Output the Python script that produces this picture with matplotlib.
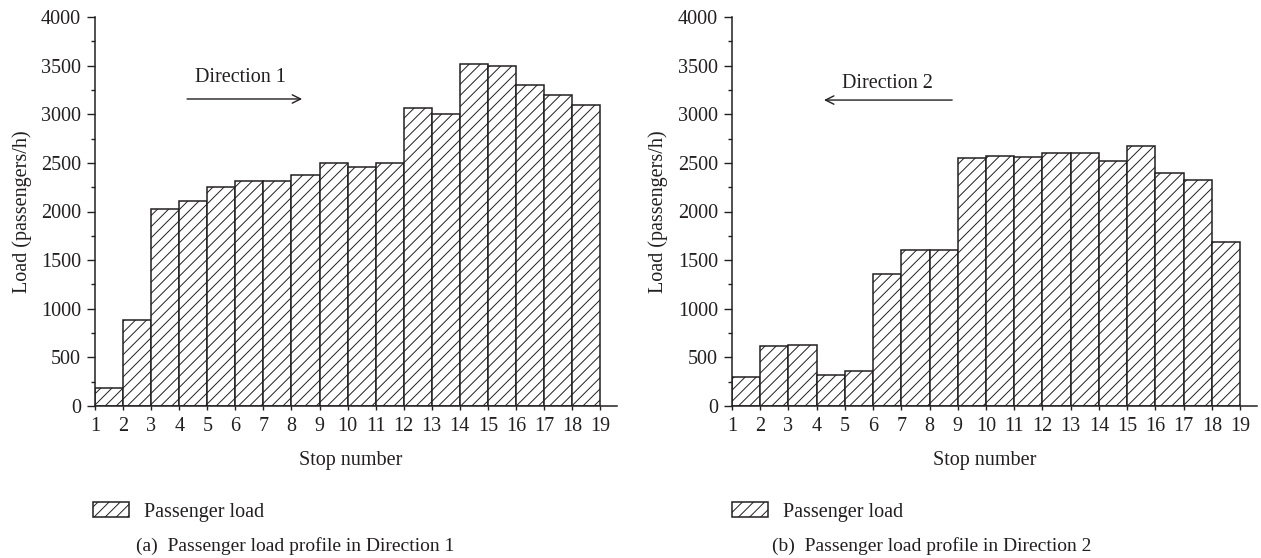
import matplotlib
matplotlib.use("Agg")
import matplotlib.pyplot as plt
from matplotlib.ticker import MultipleLocator

plt.rcParams['font.family'] = ['Liberation Serif', 'DejaVu Serif']
plt.rcParams['hatch.linewidth'] = 0.7

stops = list(range(1, 20))
segments = list(range(1, 19))
load_dir1 = [180, 880, 2030, 2110, 2250, 2310, 2310, 2380, 2500, 2460, 2500,
             3060, 3000, 3520, 3500, 3300, 3200, 3100]
load_dir2 = [300, 615, 630, 320, 360, 1360, 1600, 1605, 2550, 2570, 2565,
             2600, 2600, 2515, 2670, 2395, 2320, 1690]
yticks = list(range(0, 4001, 500))

INK = '#231f20'
FS = 14.5

W, H = 1261, 558
fig = plt.figure(figsize=(W / 100, H / 100), dpi=100)

def make_axes(left_px, right_px, values, direction_label, arrow_tail, arrow_head,
              arrow_y, text_xy, legend_x_px, caption, caption_x_px, xlabel_x):
    ax = fig.add_axes([left_px / W, 1 - 406 / H, (right_px - left_px) / W, 389 / H])
    bars = ax.bar(segments, values, width=1.0, align='edge', color='white',
                  edgecolor=INK, linewidth=1.1, hatch='///', label='Passenger load')
    ax.set_xlim(1, 19.6)
    ax.set_ylim(0, 4000)
    ax.set_xticks(stops)
    ax.set_yticks(yticks)
    ax.yaxis.set_minor_locator(MultipleLocator(250))
    for s in ['top', 'right']:
        ax.spines[s].set_visible(False)
    for s in ['left', 'bottom']:
        ax.spines[s].set_color(INK)
        ax.spines[s].set_linewidth(1.1)
    ax.tick_params(axis='y', which='major', direction='out', length=6, width=1.0,
                   color=INK, labelsize=FS, labelcolor=INK, pad=4)
    ax.tick_params(axis='y', which='minor', direction='out', length=3, width=1.0,
                   color=INK)
    ax.tick_params(axis='x', which='major', direction='out', length=3, width=1.0,
                   color=INK, labelsize=FS, labelcolor=INK, pad=5)
    ax.set_xlabel('Stop number', fontsize=FS, color=INK, va='center')
    ax.xaxis.set_label_coords(xlabel_x, -0.139)
    ax.set_ylabel('Load (passengers/h)', fontsize=FS, color=INK, va='center')
    ax.yaxis.set_label_coords(-0.14, 0.5)
    ax.annotate('', xy=(arrow_head, arrow_y), xytext=(arrow_tail, arrow_y),
                arrowprops=dict(arrowstyle='->,head_length=0.6,head_width=0.3',
                                color=INK, lw=1.0, shrinkA=0, shrinkB=0))
    ax.text(text_xy[0], text_xy[1], direction_label, fontsize=FS, color=INK,
            ha='center', va='center')
    fig.legend(handles=[bars], labels=['Passenger load'], loc='center left',
               bbox_to_anchor=(legend_x_px / W, 1 - 512 / H), frameon=False,
               fontsize=FS, handlelength=1.8, handleheight=0.7,
               handletextpad=0.75, borderpad=0, borderaxespad=0,
               labelcolor=INK)
    fig.text(caption_x_px / W, 1 - 546 / H, caption, fontsize=FS - 0.5,
             color=INK, ha='left', va='center')
    return ax

make_axes(95, 617, load_dir1, 'Direction 1', 4.28, 8.38, 3157, (6.17, 3373),
          93, '(a)  Passenger load profile in Direction 1', 136, 0.489)
make_axes(732, 1257, load_dir2, 'Direction 2', 8.8, 4.26, 3146, (6.5, 3321),
          732, '(b)  Passenger load profile in Direction 2', 772, 0.482)

fig.savefig('out.png', dpi=100, facecolor='white')
